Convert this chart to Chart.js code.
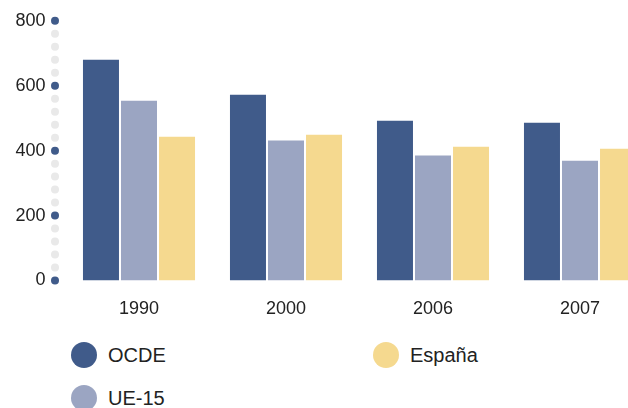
<!DOCTYPE html>
<html>
<head>
<meta charset="utf-8">
<script src="https://cdn.jsdelivr.net/npm/chart.js@4.4.1/dist/chart.umd.min.js"></script>
<style>
  html, body { margin: 0; padding: 0; background: #fff; }
  #wrap { position: relative; width: 628px; height: 408px; overflow: hidden; }
  #chart { position: absolute; left: 0; top: -10px; }
  .leg { position: absolute; display: flex; align-items: center; font: 20px "Liberation Sans", Arial, sans-serif; color: #222; }
  .leg span.dot { display: inline-block; width: 26px; height: 26px; border-radius: 50%; margin-right: 11px; }
</style>
</head>
<body>
<div id="wrap">
  <canvas id="chart" width="660" height="340"></canvas>
  <div id="legend"></div>
</div>
<script>
// datos
var categorias = ['1990', '2000', '2006', '2007'];
var series = ['OCDE', 'UE-15', 'España'];
var valoresOCDE = [680, 572, 492, 486];
var valoresUE15 = [554, 431, 385, 369];
var valoresEspana = [443, 449, 412, 406];
var colores = ['#405b8a', '#9ba5c2', '#f5d98f'];
var ticksY = [0, 200, 400, 600, 800];

var valores = [valoresOCDE, valoresUE15, valoresEspana];

// puntos del eje Y (cada 40, azul en las marcas)
var ejePuntos = {
    id: 'ejePuntos',
    beforeDatasetsDraw: function(chart) {
        var ctx = chart.ctx;
        var y = chart.scales.y;
        var x = chart.chartArea.left - 10.5;
        ctx.save();
        for (var v = 0; v <= 800; v += 40) {
            ctx.beginPath();
            ctx.arc(x, y.getPixelForValue(v), 4, 0, Math.PI * 2);
            ctx.fillStyle = ticksY.indexOf(v) >= 0 ? '#405b8a' : '#e9e9e9';
            ctx.fill();
        }
        ctx.restore();
    }
};

var ctx = document.getElementById('chart').getContext('2d');
var grafico = new Chart(ctx, {
    type: 'bar',
    data: {
        labels: categorias,
        datasets: series.map(function(s, i) {
            return {
                label: s,
                data: valores[i],
                backgroundColor: colores[i],
                borderWidth: 0,
                categoryPercentage: 0.776,
                barPercentage: 0.947
            };
        })
    },
    options: {
        responsive: false,
        animation: false,
        layout: { padding: { top: 20, right: 6.5, left: 0, bottom: 0 } },
        plugins: {
            legend: { display: false },
            tooltip: { enabled: false }
        },
        scales: {
            y: {
                min: 0,
                max: 800,
                afterFit: function(scale) { scale.width = 65.5; },
                afterBuildTicks: function(scale) {
                    scale.ticks = ticksY.map(function(v) { return { value: v }; });
                },
                grid: { display: false, drawTicks: false },
                border: { display: false },
                ticks: {
                    padding: 20,
                    color: '#222',
                    font: { family: 'Liberation Sans', size: 18 }
                }
            },
            x: {
                afterFit: function(scale) { scale.height = 49.5; },
                grid: { display: false, drawTicks: false },
                border: { display: false },
                ticks: {
                    padding: 18,
                    color: '#222',
                    font: { family: 'Liberation Sans', size: 18 }
                }
            }
        }
    },
    plugins: [ejePuntos]
});

// leyenda en dos columnas
var posLeyenda = [[71, 355], [71, 398], [373, 355]];
var leyenda = document.getElementById('legend');
series.forEach(function(s, i) {
    var d = document.createElement('div');
    d.className = 'leg';
    d.style.left = posLeyenda[i][0] + 'px';
    d.style.top = (posLeyenda[i][1] - 13) + 'px';
    d.style.height = '26px';
    d.innerHTML = '<span class="dot" style="background:' + colores[i] + '"></span>' + s;
    leyenda.appendChild(d);
});
</script>
</body>
</html>
